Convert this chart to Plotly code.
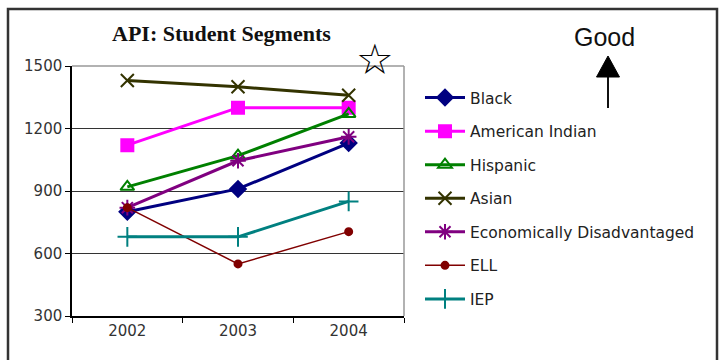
import plotly.graph_objects as go

years = ["2002", "2003", "2004"]
black = [800, 910, 1130]
american_indian = [1120, 1300, 1300]
hispanic = [920, 1070, 1270]
asian = [1430, 1400, 1360]
econ_dis = [820, 1045, 1160]
ell = [820, 550, 705]
iep = [680, 680, 850]

series = [
    ("Black", black, "#000080", "diamond", 12, 3),
    ("American Indian", american_indian, "#FF00FF", "square", 12, 3),
    ("Hispanic", hispanic, "#008000", "triangle-up-open", 12, 3),
    ("Asian", asian, "#333300", "x-thin-open", 13, 3),
    ("Economically Disadvantaged", econ_dis, "#800080", "asterisk-open", 13, 3),
    ("ELL", ell, "#800000", "circle", 7, 1.5),
    ("IEP", iep, "#008080", "cross-thin-open", 14, 3),
]

fig = go.Figure()
for i, (name, vals, col, sym, size, lw) in enumerate(series):
    fig.add_trace(go.Scatter(
        x=years, y=vals, name=name, mode="lines+markers",
        line=dict(color=col, width=lw),
        marker=dict(symbol=sym, size=size, color=col, line=dict(color=col, width=2)),
        legendgroup=str(i),
    ))

W, H = 720, 360
L, R, T, B = 72, 404, 66, 316
def px(x):
    return (x - L) / (R - L)
def py(y):
    return (B - y) / (B - T)

ann = dict(xref="paper", yref="paper", showarrow=False, xanchor="center", yanchor="middle")

fig.update_layout(
    width=W, height=H,
    margin=dict(l=L, r=W - R, t=T, b=H - B),
    paper_bgcolor="white", plot_bgcolor="white",
    showlegend=True,
    legend=dict(x=px(420), y=py(81), xanchor="left", yanchor="top",
                font=dict(family="DejaVu Sans", size=15.5, color="#222"),
                traceorder="grouped", tracegroupgap=10.4,
                bgcolor="rgba(0,0,0,0)", itemwidth=40),
    xaxis=dict(type="category", tickson="boundaries", ticks="outside", ticklen=5,
               tickcolor="#000", showline=True, linecolor="#000", linewidth=1.5,
               showgrid=False, mirror=False,
               tickfont=dict(family="DejaVu Sans", size=15, color="#333"),
               range=[-0.5, 2.5]),
    yaxis=dict(range=[300, 1500], tickvals=[300, 600, 900, 1200, 1500], ticks="outside",
               ticklen=5, tickcolor="#000", showline=True, linecolor="#000", linewidth=1.5,
               showgrid=True, gridcolor="#333", gridwidth=1,
               tickfont=dict(family="DejaVu Sans", size=15, color="#333"),
               zeroline=False),
    shapes=[
        dict(type="line", xref="paper", yref="paper", x0=0, x1=1, y0=1, y1=1,
             line=dict(color="#999", width=1.5)),
        dict(type="line", xref="paper", yref="paper", x0=1, x1=1, y0=0, y1=1,
             line=dict(color="#999", width=1.5)),
        dict(type="rect", xref="paper", yref="paper", x0=px(8), x1=px(717),
             y0=py(365), y1=py(9), line=dict(color="#333", width=2.5)),
        # "Good" arrow shaft and head
        dict(type="line", xref="paper", yref="paper", x0=px(608), x1=px(608),
             y0=py(108), y1=py(74), line=dict(color="#111", width=2)),
        dict(type="path", xref="paper", yref="paper",
             path=f"M{px(596.5)},{py(77)} L{px(619.5)},{py(77)} L{px(608)},{py(56)} Z",
             fillcolor="#000", line=dict(color="#000", width=1)),
    ],
    annotations=[
        dict(text="<b>API: Student Segments</b>", x=px(221), y=py(33),
             font=dict(family="Liberation Serif", size=22, color="#111"), **ann),
        dict(text="☆", x=px(375), y=py(60),
             font=dict(family="DejaVu Sans", size=42, color="#000"), **ann),
        dict(text="Good", x=px(604), y=py(37),
             font=dict(family="Liberation Sans", size=25, color="#111"), **ann),
    ],
)

fig.write_html("out.html")
